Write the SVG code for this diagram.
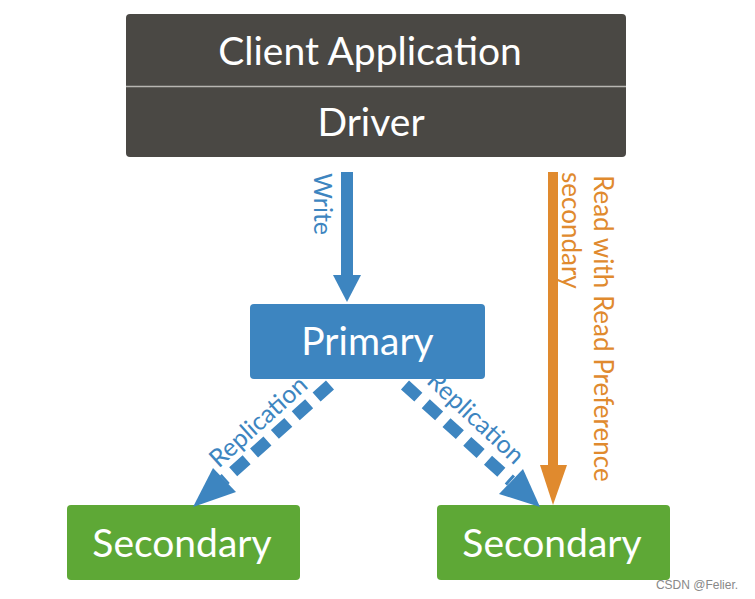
<svg xmlns="http://www.w3.org/2000/svg" width="755" height="599" viewBox="0 0 755 599">
<style>
.lbl{font-family:Lato,"Open Sans","Liberation Sans",sans-serif;fill:#fff;text-anchor:middle}
.big{font-size:39px}
.mid{font-size:39px}
.blue{font-family:Lato,"Open Sans","Liberation Sans",sans-serif;fill:#3d85c0;font-size:25px}
.orange{font-family:Lato,"Open Sans","Liberation Sans",sans-serif;fill:#e08a2e;font-size:26px}
.dash{stroke:#3d85c0;stroke-width:12;stroke-dasharray:18 10;fill:none}
</style>
<rect width="755" height="599" fill="#fff"/>
<g id="client">
<rect x="126" y="14" width="500" height="143" rx="4" fill="#4a4844"/>
<line x1="126" y1="86.5" x2="626" y2="86.5" stroke="#b8b6b2" stroke-width="1.5"/>
<text class="lbl big" x="370" y="65">Client Application</text>
<text class="lbl big" x="371" y="136" font-size="40">Driver</text>
</g>
<g id="primary">
<rect x="250" y="304" width="235" height="75" rx="4" fill="#3d85c0"/>
<text class="lbl mid" x="367.5" y="355">Primary</text>
</g>
<g id="secondary1">
<rect x="67" y="505" width="233" height="75" rx="4" fill="#5ea836"/>
<text class="lbl mid" x="182" y="557">Secondary</text>
</g>
<g id="secondary2">
<rect x="437" y="505" width="233" height="75" rx="4" fill="#5ea836"/>
<text class="lbl mid" x="552" y="557">Secondary</text>
</g>
<g id="connectors">
<rect x="341" y="172" width="12" height="104" fill="#3d85c0"/>
<polygon points="333,275 361,275 347,302" fill="#3d85c0"/>
<text class="blue" transform="translate(314,173) rotate(90)" font-size="26">Write</text>
<rect x="548" y="172" width="10" height="294" fill="#e08a2e"/>
<polygon points="540,465 567,465 553,505" fill="#e08a2e"/>
<text class="orange" transform="translate(594,175) rotate(90)">Read with Read Preference</text>
<text class="orange" transform="translate(562,172) rotate(90)">secondary</text>
<line class="dash" x1="330" y1="385" x2="224" y2="480"/>
<polygon points="213,468 236,492 193,507" fill="#3d85c0"/>
<line class="dash" x1="405" y1="385" x2="511" y2="481"/>
<polygon points="499,494 523,469 540,507" fill="#3d85c0"/>
<text class="blue" text-anchor="middle" transform="translate(264,428) rotate(-42)">Replication</text>
<text class="blue" text-anchor="middle" transform="translate(470,424) rotate(43)">Replication</text>
</g>
<text x="697" y="589" font-family="Liberation Sans,Arial,sans-serif" font-size="12" fill="#888" text-anchor="middle">CSDN @Felier.</text>
</svg>
